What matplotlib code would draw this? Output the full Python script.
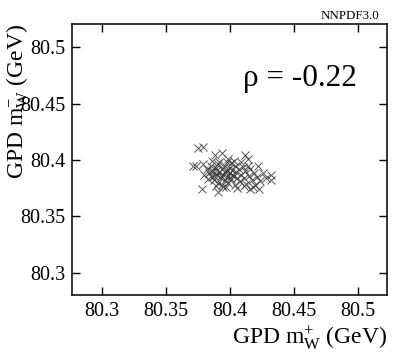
import numpy as np
import matplotlib.pyplot as plt

plt.rcParams['font.family'] = ['Liberation Serif', 'DejaVu Serif']
plt.rcParams['mathtext.fontset'] = 'custom'
plt.rcParams['mathtext.rm'] = 'Liberation Serif'
plt.rcParams['mathtext.it'] = 'Liberation Serif:italic'

# replica fits: (m_W^+, m_W^-) in GeV
mw_plus = [
    80.3755, 80.3794, 80.3716, 80.3737, 80.3885, 80.3937, 80.4120, 80.4143,
    80.4221, 80.3780, 80.3909, 80.3948, 80.4155, 80.4230, 80.4320, 80.4320,
    80.4280,
    80.382, 80.384, 80.385, 80.386, 80.387, 80.388, 80.389, 80.390,
    80.391, 80.391, 80.392, 80.393, 80.394, 80.394, 80.395, 80.396,
    80.396, 80.397, 80.398, 80.398, 80.399, 80.400, 80.400, 80.401,
    80.401, 80.402, 80.403, 80.404, 80.404, 80.405, 80.406, 80.407,
    80.408, 80.409, 80.410, 80.411, 80.412, 80.413, 80.415, 80.416,
    80.417, 80.419, 80.420, 80.421, 80.424, 80.426, 80.383, 80.380,
    80.379, 80.386, 80.389, 80.392, 80.397, 80.399, 80.403, 80.406,
    80.409, 80.411, 80.414, 80.418, 80.393, 80.396, 80.398, 80.400,
    80.402, 80.385, 80.388, 80.390,
]
mw_minus = [
    80.4104, 80.4113, 80.3947, 80.3947, 80.4044, 80.4059, 80.4044, 80.4009,
    80.3947, 80.3740, 80.3719, 80.3760, 80.3740, 80.3740, 80.3870, 80.3820,
    80.3840,
    80.392, 80.388, 80.395, 80.385, 80.390, 80.382, 80.393, 80.387,
    80.396, 80.380, 80.389, 80.384, 80.392, 80.378, 80.387, 80.395,
    80.382, 80.390, 80.398, 80.385, 80.380, 80.393, 80.388, 80.397,
    80.383, 80.391, 80.386, 80.395, 80.378, 80.389, 80.384, 80.392,
    80.381, 80.387, 80.394, 80.384, 80.390, 80.379, 80.386, 80.392,
    80.382, 80.388, 80.378, 80.385, 80.381, 80.388, 80.383, 80.387,
    80.396, 80.399, 80.377, 80.398, 80.376, 80.401, 80.399, 80.375,
    80.398, 80.377, 80.395, 80.376, 80.386, 80.389, 80.391, 80.384,
    80.387, 80.390, 80.386, 80.391,
]
rho_text = 'ρ = -0.22'
ticks = [80.3, 80.35, 80.4, 80.45, 80.5]
tick_labels = ['80.3', '80.35', '80.4', '80.45', '80.5']

fig = plt.figure(figsize=(4.07, 3.52), dpi=100)
ax = fig.add_axes([0.177, 0.162, 0.774, 0.770])

ax.plot(mw_plus, mw_minus, linestyle='none', marker='x', markersize=5.5,
        markeredgewidth=0.7, color='#3a3a3a', alpha=0.85)

ax.set_xlim(80.2768, 80.5229)
ax.set_ylim(80.2802, 80.5207)
ax.set_xticks(ticks)
ax.set_xticklabels(tick_labels)
ax.set_yticks(ticks)
ax.set_yticklabels(tick_labels)
ax.tick_params(direction='in', length=6, width=1, top=True, right=True,
               labelsize=14.5, pad=5)
for sp in ax.spines.values():
    sp.set_linewidth(1.1)

ax.set_xlabel(r'GPD m$_\mathrm{W}^{+}$ (GeV)', fontsize=17, ha='right', va='top')
ax.xaxis.set_label_coords(1.0, -0.11)
ax.set_ylabel(r'GPD m$_\mathrm{W}^{-}$ (GeV)', fontsize=17, ha='right', va='center')
ax.yaxis.set_label_coords(-0.171, 1.0)

ax.text(0.905, 0.80, rho_text, transform=ax.transAxes, fontsize=22.5,
        ha='right', va='center')
fig.text(0.932, 0.937, 'NNPDF3.0', fontsize=9.3, ha='right', va='bottom')

plt.savefig('out.png', dpi=100)
